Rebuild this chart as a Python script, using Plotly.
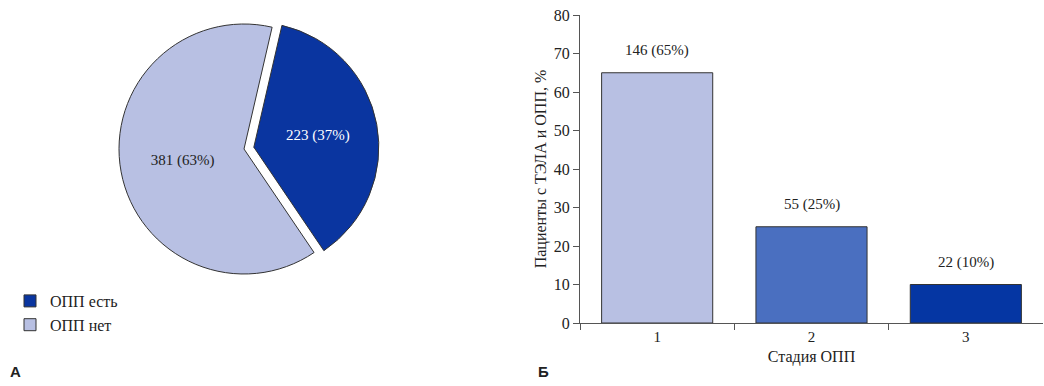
import plotly.graph_objects as go

# Pie data
pie_labels = ["ОПП есть", "ОПП нет"]
pie_values = [223, 381]
pie_pct = [37, 63]
pie_colors = ["#0a35a0", "#b8c0e3"]
pie_text_colors = ["white", "#222222"]

# Bar data
stages = ["1", "2", "3"]
stage_pct = [65, 25, 10]
stage_n = [146, 55, 22]
bar_colors = ["#b8c0e3", "#4a6fc0", "#0536a3"]

W, H = 1044, 386
serif = "Liberation Serif, Times New Roman, serif"

fig = go.Figure()

pie_text = [f"{v} ({p}%)" for v, p in zip(pie_values, pie_pct)]
fig.add_trace(go.Pie(
    labels=pie_labels, values=pie_values, text=pie_text,
    textinfo="text", hoverinfo="label+value+percent",
    sort=False, direction="clockwise", rotation=13,
    pull=[0.08, 0],
    marker=dict(colors=pie_colors, line=dict(color="#333333", width=1)),
    textfont=dict(family=serif, size=15, color=pie_text_colors),
    insidetextorientation="horizontal",
    domain=dict(x=[108 / W, 380 / W], y=[(H - 284) / H, (H - 14) / H]),
    showlegend=True,
))

bar_text = [f"{n} ({p}%)" for n, p in zip(stage_n, stage_pct)]
fig.add_trace(go.Bar(
    x=stages, y=stage_pct, width=0.72,
    marker=dict(color=bar_colors, line=dict(color="#333333", width=1)),
    showlegend=False, xaxis="x", yaxis="y",
))
for i, (p, t) in enumerate(zip(stage_pct, bar_text)):
    fig.add_annotation(x=i, y=p, text=t, showarrow=False, yshift=22,
                       xref="x", yref="y",
                       font=dict(family=serif, size=15, color="#222222"))

fig.add_annotation(x=8 / W, y=(H - 371) / H, xref="paper", yref="paper",
                   text="<b>А</b>", showarrow=False, xanchor="left", yanchor="middle",
                   font=dict(family="Liberation Sans, Arial", size=15, color="#222"))
fig.add_annotation(x=536 / W, y=(H - 371) / H, xref="paper", yref="paper",
                   text="<b>Б</b>", showarrow=False, xanchor="left", yanchor="middle",
                   font=dict(family="Liberation Sans, Arial", size=15, color="#222"))

fig.update_layout(
    width=W, height=H,
    margin=dict(l=0, r=0, t=0, b=0),
    paper_bgcolor="white", plot_bgcolor="white",
    font=dict(family=serif, size=15, color="#222222"),
    legend=dict(x=10 / W, y=(H - 284) / H, xanchor="left", yanchor="top",
                font=dict(family=serif, size=16, color="#222"),
                itemwidth=30, tracegroupgap=2),
    xaxis=dict(domain=[580 / W, 1043 / W], range=[-0.5, 2.5],
               type="category", tickson="boundaries", automargin=False,
               ticks="outside", ticklen=6, tickcolor="#555",
               showline=True, linecolor="#555", linewidth=1,
               showgrid=False, zeroline=False,
               tickfont=dict(family=serif, size=15),
               title=dict(text="Стадия ОПП", font=dict(family=serif, size=16), standoff=6)),
    yaxis=dict(domain=[(H - 323) / H, (H - 15) / H], range=[0, 80], dtick=10,
               automargin=False,
               ticks="outside", ticklen=6, tickcolor="#555",
               showline=True, linecolor="#555", linewidth=1,
               showgrid=False, zeroline=False,
               tickfont=dict(family=serif, size=16),
               title=dict(text="Пациенты с ТЭЛА и ОПП, %", font=dict(family=serif, size=16), standoff=3)),
)

fig.write_html("out.html", config={"displayModeBar": False},
               post_script="document.body.style.margin='0';document.body.style.overflow='hidden';")
